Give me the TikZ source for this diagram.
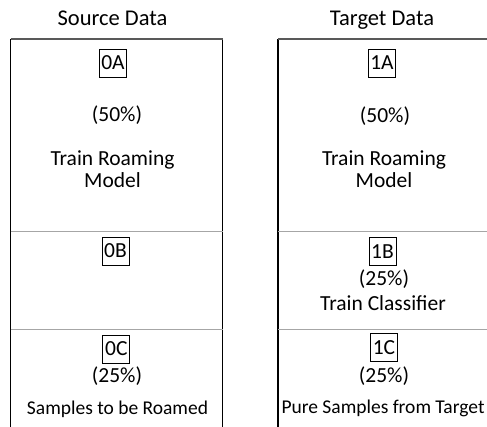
\documentclass[tikz,border=0pt]{standalone}
\usepackage{fontspec}
\setmainfont{Carlito}
\begin{document}
\begin{tikzpicture}[x=1pt,y=-1pt,
  title/.style={inner sep=0pt, font=\fontsize{22.5}{24}\selectfont},
  txt/.style={inner sep=0pt, font=\fontsize{21.5}{22}\selectfont},
  small/.style={inner sep=0pt, font=\fontsize{19.5}{22}\selectfont},
  lbl/.style={draw=black, line width=0.8pt, inner sep=0pt, minimum width=27pt, minimum height=28pt, font=\fontsize{21.5}{22}\selectfont},
  frame/.style={line width=1.2pt, black},
  topline/.style={line width=1.3pt, black!65},
  sep/.style={line width=1pt, black!35}]
\useasboundingbox (0,0) rectangle (487,427);
% titles
\node[title, anchor=base] (st) at (112.5,26) {Source Data};
\node[title, anchor=base] (tt) at (382,26) {Target Data};
% left frame
\draw[frame] (10.5,39) -- (10.5,427);
\draw[frame] (222.5,39) -- (222.5,427);
\draw[topline] (10.5,39) -- (222.5,39);
\draw[sep] (10.5,232) -- (222.5,232);
\draw[sep] (10.5,330) -- (222.5,330);
% right frame
\draw[frame] (278,39) -- (278,427);
\draw[topline] (278,39) -- (487,39);
\draw[sep] (278,232) -- (487,232);
\draw[sep] (278,330) -- (487,330);
% left contents
\node[lbl] (a0) at (113,63) {0A};
\node[txt] (p0a) at (117,115) {(50\%)};
\node[txt, anchor=base] (t0a) at (112.5,166) {Train Roaming};
\node[txt, anchor=base] (m0a) at (112.5,188) {Model};
\node[lbl] (b0) at (115.5,251) {0B};
\node[lbl] (c0) at (116.3,349) {0C};
\node[txt] (p0c) at (117,376) {(25\%)};
\node[small, anchor=base] (s0c) at (117.5,414) {Samples to be Roamed};
% right contents
\node[lbl] (a1) at (382,63) {1A};
\node[txt] (p1a) at (385,116) {(50\%)};
\node[txt, anchor=base] (t1a) at (384,166) {Train Roaming};
\node[txt, anchor=base] (m1a) at (384,188) {Model};
\node[lbl] (b1) at (382.5,251.5) {1B};
\node[txt] (p1b) at (384,279) {(25\%)};
\node[txt, anchor=base] (c1b) at (383,311) {Train Classifier};
\node[lbl] (c1) at (384,347.5) {1C};
\node[txt] (p1c) at (384,376) {(25\%)};
\node[small, anchor=base] (s1c) at (383,413) {Pure Samples from Target};
\end{tikzpicture}
\end{document}
